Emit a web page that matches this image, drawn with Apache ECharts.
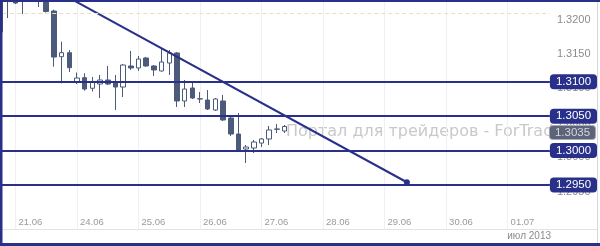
<!DOCTYPE html>
<html><head><meta charset="utf-8">
<script src="https://cdn.jsdelivr.net/npm/echarts@6/dist/echarts.min.js"></script>
<style>html,body{margin:0;padding:0;background:#fff}#c{width:600px;height:246px}</style>
</head><body><div id="c"></div>
<script>
// ---- data ----
const dayLabels = ['21.06','24.06','25.06','26.06','27.06','28.06','29.06','30.06','01.07'];
const firstDayIndex = 2;
const barsPerDay = 8;
const slotCount = 72;
// [open, close, low, high]  (3-hour bars, from 20.06 18:00)
const candles = [
  [1.31724, 1.32334, 1.31695, 1.32480],
  [1.32305, 1.32233, 1.31927, 1.32407],
  [1.32262, 1.32145, 1.32130, 1.32334],
  [1.32233, 1.32218, 1.31985, 1.32300],
  [1.32262, 1.32320, 1.32233, 1.32400],
  [1.32320, 1.32240, 1.32087, 1.32420],
  [1.32250, 1.32022, 1.32007, 1.32290],
  [1.32029, 1.31360, 1.31219, 1.32048],
  [1.31365, 1.31423, 1.30978, 1.31583],
  [1.31423, 1.31205, 1.31142, 1.31462],
  [1.30997, 1.31055, 1.30968, 1.31135],
  [1.31060, 1.30895, 1.30871, 1.31124],
  [1.30906, 1.30993, 1.30859, 1.31070],
  [1.30968, 1.31026, 1.30765, 1.31099],
  [1.31026, 1.30968, 1.30953, 1.31230],
  [1.30997, 1.30924, 1.30590, 1.31099],
  [1.30924, 1.31244, 1.30779, 1.31259],
  [1.31230, 1.31201, 1.31172, 1.31448],
  [1.31201, 1.31331, 1.31157, 1.31375],
  [1.31346, 1.31230, 1.31215, 1.31360],
  [1.31230, 1.31172, 1.31084, 1.31244],
  [1.31157, 1.31288, 1.31150, 1.31477],
  [1.31273, 1.31419, 1.31099, 1.31462],
  [1.31419, 1.30721, 1.30634, 1.31433],
  [1.30721, 1.30895, 1.30634, 1.31026],
  [1.30910, 1.30765, 1.30750, 1.31012],
  [1.30750, 1.30754, 1.30692, 1.30852],
  [1.30735, 1.30605, 1.30590, 1.30881],
  [1.30590, 1.30750, 1.30576, 1.30765],
  [1.30721, 1.30445, 1.30430, 1.30808],
  [1.30474, 1.30241, 1.30212, 1.30517],
  [1.30241, 1.30009, 1.30001, 1.30547],
  [1.30023, 1.30052, 1.29820, 1.30081],
  [1.30038, 1.30125, 1.29965, 1.30154],
  [1.30110, 1.30169, 1.30052, 1.30183],
  [1.30169, 1.30300, 1.30081, 1.30358],
  [1.30314, 1.30310, 1.30256, 1.30387],
  [1.30285, 1.30350, 1.30256, 1.30372]
];
const levels = [1.3100, 1.3050, 1.3000, 1.2950];
const dashedLevel = 1.3200;
const yTicks = [1.2950, 1.3000, 1.3050, 1.3100, 1.3150, 1.3200];
const lastPrice = 1.3035;
const trendStart = [8, 1.3228];
const trendEnd = [52.9, 1.2954];
const monthLabel = 'июл 2013';
const watermark = 'Портал для трейдеров - ForTrader.ru';
const yMin = 1.288605, yMax = 1.321599;

// ---- build ----
const NAVY = '#28308a';
const categories = [];
const dayStarts = [];
for (let i = 0; i < slotCount; i++) {
  const k = (i - firstDayIndex) / barsPerDay;
  if (i >= firstDayIndex && Number.isInteger(k) && k < dayLabels.length) {
    categories.push(dayLabels[k]); dayStarts.push(i);
  } else categories.push('');
}

const chart = echarts.init(document.getElementById('c'), null, {renderer: 'canvas'});
const levelLines = levels.map(v => ({
  yAxis: v,
  lineStyle: {color: NAVY, width: 2, type: 'solid'},
  label: {show: true, position: 'end', distance: 0, formatter: v.toFixed(4),
    backgroundColor: NAVY, color: '#ffffff', borderRadius: 4,
    padding: [2, 6, 1, 6], fontSize: 11.5, lineHeight: 12, fontFamily: 'Liberation Sans'}
}));
levelLines.push({
  yAxis: dashedLevel,
  lineStyle: {color: '#e9dfc3', width: 1, type: [4, 3]},
  label: {show: false}
});
levelLines.push({
  yAxis: lastPrice,
  lineStyle: {color: 'rgba(0,0,0,0)', width: 0},
  label: {show: true, position: 'end', distance: 0, formatter: lastPrice.toFixed(4),
    offset: [0, 6],
    backgroundColor: '#5d6378', color: '#d4d7e0', borderColor: '#a7acbb', borderWidth: 1,
    borderRadius: 3, padding: [1, 5, 0, 5], fontSize: 11.5, lineHeight: 12, fontFamily: 'Liberation Sans'}
});

chart.setOption({
  animation: false,
  backgroundColor: '#ffffff',
  grid: {left: -3.745, right: 50.1, top: 2, bottom: 17, outerBoundsMode: 'none', containLabel: false},
  xAxis: [{
    type: 'category', data: categories, boundaryGap: true,
    axisLine: {show: true, lineStyle: {color: '#e3e3e3', width: 1}},
    axisTick: {show: false},
    splitLine: {show: false},
    axisLabel: {
      interval: (idx) => dayStarts.indexOf(idx) >= 0,
      inside: true, margin: 7, align: 'left', verticalAlign: 'middle',
      padding: [0, 0, 0, 3],
      color: '#9a9a9a', fontSize: 9.5, fontFamily: 'Liberation Sans'
    }
  }, {
    type: 'value', min: -0.5, max: slotCount - 0.5, show: false
  }],
  yAxis: {
    type: 'value', position: 'right', min: yMin, max: yMax, scale: true,
    axisLine: {show: false}, axisTick: {show: false, customValues: yTicks}, splitLine: {show: false},
    axisLabel: {customValues: yTicks, formatter: v => v.toFixed(4), margin: 7,
      verticalAlign: 'top', padding: [1, 0, 0, 0],
      color: '#8c8c8c', fontSize: 11, fontFamily: 'Liberation Sans'}
  },
  series: [{
    name: 'days', type: 'line', xAxisIndex: 1, data: [], z: 1, silent: true,
    markLine: {symbol: 'none', silent: true, animation: false, precision: 6, z: 1,
      lineStyle: {color: '#f0f0f0', width: 1, type: 'solid'}, label: {show: false},
      data: dayStarts.map(i => ({xAxis: i}))}
  }, {
    name: 'EURUSD', type: 'candlestick', data: candles, barWidth: 5, clip: true, z: 3,
    itemStyle: {color: '#ffffff', color0: '#4c5a7b', borderColor: '#4c5a7b', borderColor0: '#4c5a7b', borderWidth: 1},
    markLine: {symbol: 'none', silent: true, animation: false, precision: 6, data: levelLines}
  }, {
    name: 'trend', type: 'line', xAxisIndex: 1, z: 4, clip: true,
    data: [{value: trendStart, symbol: 'none'}, {value: trendEnd, symbol: 'circle', symbolSize: 6}],
    showSymbol: true,
    lineStyle: {color: NAVY, width: 2}, itemStyle: {color: NAVY}
  }],
  graphic: [
    {type: 'text', left: 286, top: 124, z: 0, silent: true,
      style: {text: watermark, font: '16px "DejaVu Sans"', fill: '#c9c9c9'}},
    {type: 'text', right: 49, top: 231, z: 0, silent: true,
      style: {text: monthLabel, font: '10px "Liberation Sans"', fill: '#8a8a8a'}},
    {type: 'line', z: 50, silent: true, shape: {x1: 550, y1: 229.5, x2: 597, y2: 229.5}, style: {stroke: '#e3e3e3', lineWidth: 1}},
    {type: 'line', z: 100, silent: true, shape: {x1: 597.5, y1: 0, x2: 597.5, y2: 246}, style: {stroke: '#d8d8d8', lineWidth: 1}},
    {type: 'rect', z: 100, silent: true, shape: {x: 0, y: 0, width: 600, height: 2}, style: {fill: NAVY}},
    {type: 'rect', z: 100, silent: true, shape: {x: 0, y: 0, width: 2.5, height: 246}, style: {fill: NAVY}},
    {type: 'rect', z: 100, silent: true, shape: {x: 0, y: 243, width: 600, height: 3}, style: {fill: NAVY}}
  ]
});
</script></body></html>
